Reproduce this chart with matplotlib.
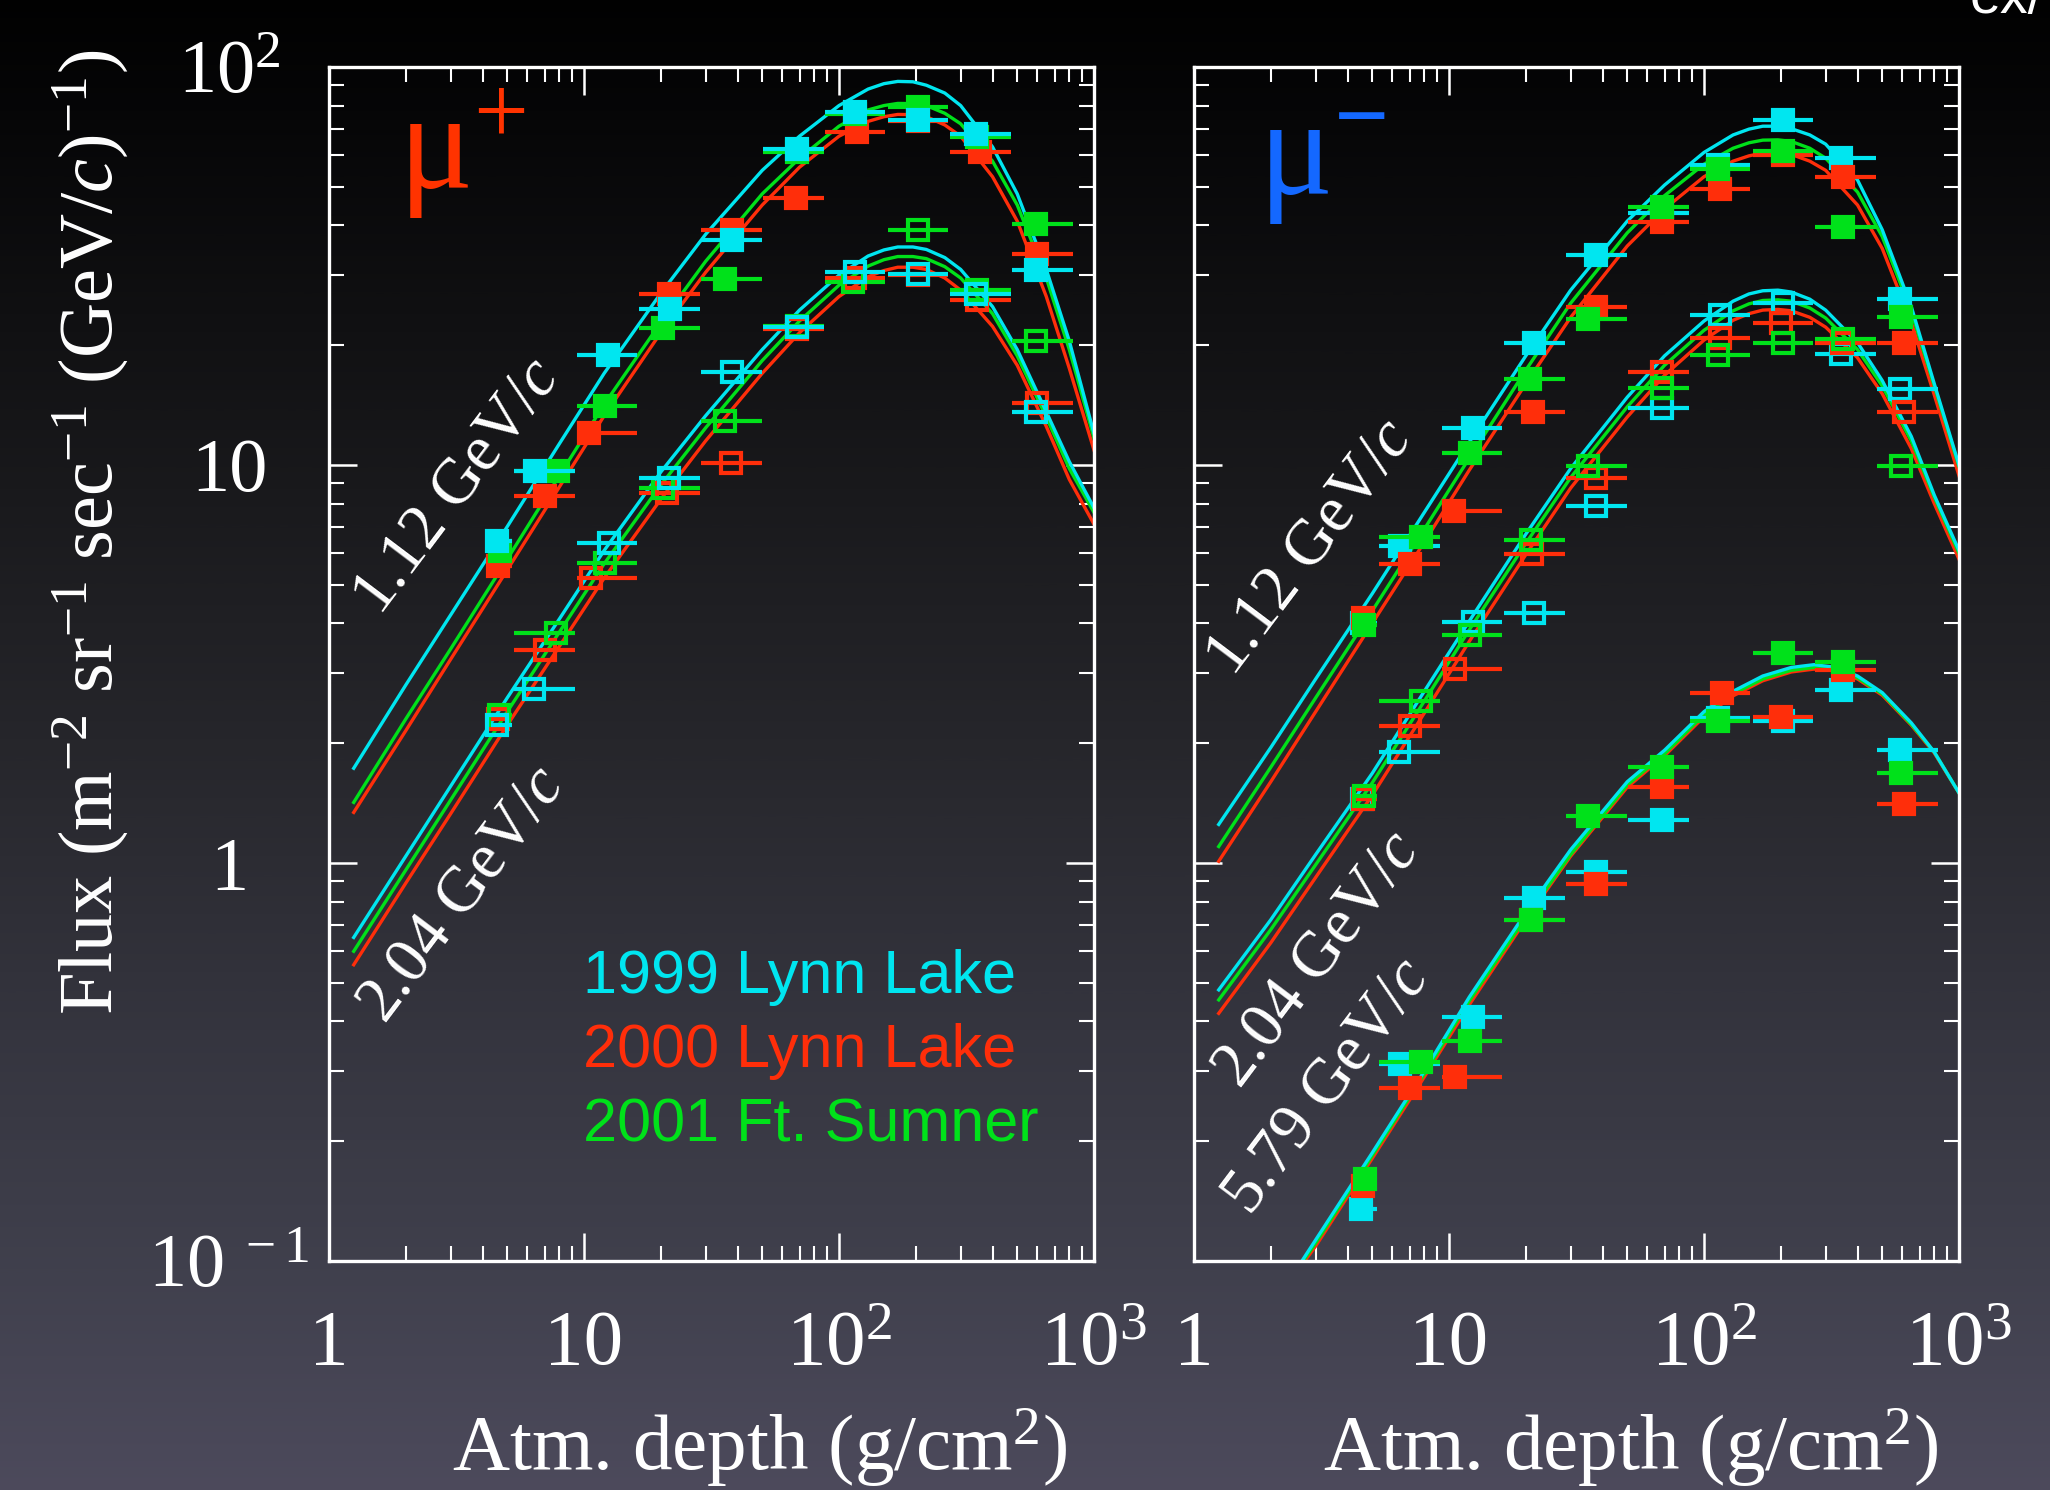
import numpy as np
import matplotlib
matplotlib.use("Agg")
import matplotlib.pyplot as plt
from matplotlib.colors import LinearSegmentedColormap
from matplotlib.ticker import LogLocator, NullFormatter

plt.rcParams['mathtext.fontset'] = 'custom'
plt.rcParams['mathtext.rm'] = 'Liberation Serif'
plt.rcParams['mathtext.it'] = 'Liberation Serif:italic'
plt.rcParams['mathtext.bf'] = 'Liberation Serif:bold'
plt.rcParams['font.family'] = ['Liberation Serif', 'DejaVu Serif']

# ---------------- data ----------------
years = ['1999 Lynn Lake', '2000 Lynn Lake', '2001 Ft. Sumner']
depth_lo = [4.3, 5.3, 9.4, 16.4, 28.8, 50.5, 88.5, 155, 273, 478]
depth_hi = [5.2, 9.2, 16.2, 28.4, 49.8, 87.3, 152, 267, 472, 828]

# mu+ 1.12 GeV/c (filled)
mup112_x_1999 = [4.55, 6.44, 12.4, 21.8, 38.2, 68.5, 116, 204, 346, 591]
mup112_y_1999 = [6.45, 9.66, 18.9, 24.7, 36.7, 62.1, 77.1, 73.5, 67.8, 30.9]
mup112_x_2000 = [4.6, 7.0, 10.5, 21.5, 38.2, 67.6, 118, 204, 357, 599]
mup112_y_2000 = [5.58, 8.36, 12.0, 26.9, 38.9, 47.0, 68.7, 73.0, 61.3, 33.9]
mup112_x_2001 = [4.7, 7.9, 12.1, 20.5, 35.6, 68.5, 116, 204, 349, 593]
mup112_y_2001 = [6.08, 9.66, 14.1, 22.1, 29.3, 61.0, 76.0, 79.4, 66.8, 40.3]
# mu+ 2.04 GeV/c (open)
mup204_x_1999 = [4.55, 6.38, 12.5, 21.5, 38.2, 68.5, 116, 204, 346, 591]
mup204_y_1999 = [2.22, 2.74, 6.35, 9.25, 17.1, 22.2, 30.6, 30.2, 26.9, 13.6]
mup204_x_2000 = [4.6, 7.0, 10.7, 21.2, 37.7, 68.5, 116, 204, 349, 599]
mup204_y_2000 = [2.30, 3.42, 5.20, 8.48, 10.1, 22.0, 29.5, 30.0, 26.0, 14.3]
mup204_x_2001 = [4.66, 7.8, 12.1, 20.5, 35.6, 68.5, 113, 204, 349, 591]
mup204_y_2001 = [2.35, 3.79, 5.66, 8.73, 12.9, 22.3, 28.9, 38.9, 27.5, 20.5]

# mu- 1.12 GeV/c (filled)
mum112_x_1999 = [4.55, 6.44, 12.4, 21.5, 37.7, 68.5, 113, 204, 346, 586]
mum112_y_1999 = [4.0, 6.27, 12.4, 20.2, 33.7, 43.0, 56.6, 73.8, 59.1, 26.1]
mum112_x_2000 = [4.6, 7.0, 10.5, 21.3, 37.7, 68.5, 116, 204, 352, 607]
mum112_y_2000 = [4.13, 5.64, 7.67, 13.6, 25.0, 40.9, 49.5, 60.0, 53.0, 20.2]
mum112_x_2001 = [4.66, 7.8, 12.1, 20.8, 35.2, 68.5, 113, 204, 352, 591]
mum112_y_2001 = [3.96, 6.58, 10.7, 16.4, 23.3, 44.6, 55.4, 61.5, 39.7, 23.5]
# mu- 2.04 GeV/c (open)
mum204_x_1999 = [4.55, 6.38, 12.4, 21.5, 37.7, 68.5, 116, 204, 346, 586]
mum204_y_1999 = [1.45, 1.90, 4.04, 4.25, 7.88, 13.9, 23.8, 25.5, 19.0, 15.5]
mum204_x_2000 = [4.6, 7.0, 10.6, 21.2, 37.7, 68.5, 116, 201, 349, 607]
mum204_y_2000 = [1.45, 2.21, 3.07, 5.96, 9.25, 17.1, 20.9, 22.8, 20.3, 13.6]
mum204_x_2001 = [4.66, 7.8, 12.1, 21.0, 35.2, 68.5, 113, 204, 352, 591]
mum204_y_2001 = [1.47, 2.56, 3.74, 6.49, 9.94, 15.6, 18.9, 20.2, 20.7, 9.94]
# mu- 5.79 GeV/c (filled)
mum579_x_1999 = [4.5, 6.44, 12.4, 21.5, 37.7, 68.5, 113, 204, 346, 586]
mum579_y_1999 = [0.135, 0.312, 0.410, 0.818, 0.95, 1.28, 2.32, 2.28, 2.72, 1.92]
mum579_x_2000 = [4.6, 7.0, 10.6, 21.0, 37.7, 68.5, 118, 201, 352, 607]
mum579_y_2000 = [0.154, 0.272, 0.290, 0.72, 0.886, 1.55, 2.67, 2.33, 3.05, 1.41]
mum579_x_2001 = [4.7, 7.8, 12.1, 21.0, 35.2, 68.5, 113, 204, 352, 591]
mum579_y_2001 = [0.161, 0.316, 0.358, 0.718, 1.31, 1.74, 2.28, 3.37, 3.20, 1.68]

# model curves
fit_x = [1.25, 2, 3, 5, 8, 12, 20, 30, 50, 70, 100, 130, 150, 170, 195, 220, 260, 300, 400, 500, 650, 800, 1000]
mup112_fit_1999 = [1.73, 2.8, 4.2, 7.0, 11.3, 17.0, 27.0, 38.0, 55.0, 67.0, 80.0, 88.0, 90.8, 92.0, 91.8, 90.0, 86.0, 80.0, 63.0, 48.0, 31.0, 20.5, 12.0]
mup112_fit_2000 = [1.34, 2.15, 3.25, 5.45, 8.8, 13.3, 21.5, 30.5, 45.0, 56.0, 67.0, 73.0, 75.0, 76.0, 75.9, 75.0, 71.5, 67.0, 53.0, 41.0, 26.5, 17.5, 10.9]
mup112_fit_2001 = [1.42, 2.3, 3.45, 5.8, 9.4, 14.2, 22.8, 32.5, 48.0, 59.0, 71.0, 78.0, 80.0, 81.0, 80.9, 80.0, 76.5, 72.0, 58.0, 45.0, 29.5, 19.5, 11.7]
mup204_fit_1999 = [0.65, 1.04, 1.56, 2.6, 4.1, 6.1, 9.6, 13.3, 19.5, 24.5, 30.0, 33.5, 34.7, 35.3, 35.3, 34.8, 33.2, 31.0, 25.0, 19.5, 13.6, 10.2, 7.8]
mup204_fit_2000 = [0.555, 0.89, 1.33, 2.22, 3.5, 5.2, 8.2, 11.5, 17.0, 21.5, 26.5, 29.7, 30.8, 31.4, 31.4, 31.0, 29.5, 27.5, 22.3, 17.8, 12.5, 9.2, 7.1]
mup204_fit_2001 = [0.60, 0.96, 1.44, 2.4, 3.8, 5.65, 8.9, 12.4, 18.3, 23.0, 28.3, 31.6, 32.8, 33.4, 33.4, 33.0, 31.5, 29.5, 24.0, 18.8, 13.2, 9.8, 7.6]
mum112_fit_1999 = [1.25, 1.95, 2.9, 4.75, 7.6, 11.4, 18.8, 27.5, 41.0, 50.5, 61.0, 67.5, 69.8, 71.0, 71.0, 70.0, 67.5, 64.0, 52.0, 39.0, 25.0, 16.0, 10.0]
mum112_fit_2000 = [1.01, 1.6, 2.4, 4.0, 6.4, 9.7, 16.0, 23.5, 35.5, 44.0, 53.0, 58.0, 59.8, 60.8, 60.9, 60.3, 58.0, 55.0, 45.0, 35.0, 22.8, 15.0, 9.4]
mum112_fit_2001 = [1.10, 1.74, 2.6, 4.3, 6.9, 10.4, 17.3, 25.5, 38.3, 47.5, 57.0, 62.5, 64.5, 65.5, 65.6, 65.0, 62.5, 59.0, 48.5, 37.5, 24.3, 15.8, 9.9]
mum204_fit_1999 = [0.48, 0.72, 1.05, 1.68, 2.7, 4.05, 6.7, 9.8, 14.8, 18.8, 23.0, 25.8, 26.9, 27.4, 27.5, 27.2, 26.1, 24.5, 20.3, 16.3, 11.8, 8.4, 6.1]
mum204_fit_2000 = [0.419, 0.63, 0.92, 1.48, 2.38, 3.6, 5.95, 8.75, 13.2, 16.8, 20.6, 23.1, 24.0, 24.5, 24.6, 24.4, 23.5, 22.2, 18.6, 15.1, 11.0, 8.0, 5.8]
mum204_fit_2001 = [0.453, 0.68, 0.99, 1.59, 2.55, 3.85, 6.35, 9.3, 14.0, 17.8, 21.8, 24.4, 25.4, 25.9, 26.0, 25.8, 24.8, 23.4, 19.5, 15.8, 11.5, 8.3, 6.0]
fit579_x_1999 = [2.65, 3, 5, 8, 12, 20, 30, 50, 70, 100, 130, 170, 220, 270, 330, 400, 500, 650, 800, 1000]
fit579_x_2000 = [2.72, 3, 5, 8, 12, 20, 30, 50, 70, 100, 130, 170, 220, 270, 330, 400, 500, 650, 800, 1000]
fit579_x_2001 = [2.68, 3, 5, 8, 12, 20, 30, 50, 70, 100, 130, 170, 220, 270, 330, 400, 500, 650, 800, 1000]
mum579_fit_1999 = [0.1, 0.113, 0.187, 0.30, 0.46, 0.75, 1.08, 1.6, 1.92, 2.4, 2.7, 2.95, 3.1, 3.15, 3.1, 2.95, 2.68, 2.25, 1.9, 1.5]
mum579_fit_2000 = [0.1, 0.109, 0.181, 0.29, 0.44, 0.72, 1.04, 1.55, 1.86, 2.33, 2.63, 2.87, 3.02, 3.07, 3.04, 2.9, 2.64, 2.22, 1.89, 1.5]
mum579_fit_2001 = [0.1, 0.111, 0.184, 0.295, 0.45, 0.73, 1.05, 1.57, 1.88, 2.36, 2.66, 2.9, 3.05, 3.1, 3.06, 2.92, 2.66, 2.23, 1.9, 1.5]

xtick_vals = [1, 10, 100, 1000]
xtick_text = ['1', '10', r'$\mathregular{10^{2}}$', r'$\mathregular{10^{3}}$']
ytick_vals = [0.1, 1, 10, 100]
ytick_text = [r'$\mathregular{10^{\ -1}}$', '1', '10', r'$\mathregular{10^{2}}$']

CYAN = '#00E6F0'
RED = '#FF2E0A'
GREEN = '#00E11A'

# ---------------- figure ----------------
W, H = 2050, 1490
fig = plt.figure(figsize=(W / 100, H / 100), dpi=100)

bg = fig.add_axes([0, 0, 1, 1], zorder=-10)
bg_cmap = LinearSegmentedColormap.from_list('bg', [
    (0.0, (0.005, 0.005, 0.006)),
    (0.10, (0.03, 0.03, 0.035)),
    (0.30, (0.09, 0.09, 0.10)),
    (0.50, (0.15, 0.15, 0.17)),
    (0.70, (0.21, 0.21, 0.25)),
    (0.85, (0.25, 0.25, 0.30)),
    (1.0, (0.30, 0.29, 0.36))])
bg.imshow(np.linspace(0, 1, 512).reshape(-1, 1), aspect='auto', cmap=bg_cmap,
          extent=[0, 1, 0, 1], origin='upper')
bg.set_axis_off()


def rect(l, t, r, b):
    return [l / W, 1 - b / H, (r - l) / W, (b - t) / H]


axL = fig.add_axes(rect(329, 67, 1094, 1261))
axR = fig.add_axes(rect(1194, 67, 1959, 1261))

for ax in (axL, axR):
    ax.set_facecolor('none')
    ax.set_xscale('log')
    ax.set_yscale('log')
    ax.set_xlim(1, 1000)
    ax.set_ylim(0.1, 100)
    for s in ax.spines.values():
        s.set_color('white')
        s.set_linewidth(2.4)
    ax.xaxis.set_minor_locator(LogLocator(base=10, subs=np.arange(2, 10), numticks=20))
    ax.yaxis.set_minor_locator(LogLocator(base=10, subs=np.arange(2, 10), numticks=20))
    ax.xaxis.set_minor_formatter(NullFormatter())
    ax.yaxis.set_minor_formatter(NullFormatter())
    ax.tick_params(which='both', direction='in', top=True, right=True,
                   colors='white')
    ax.tick_params(which='major', length=20, width=1.8)
    ax.tick_params(which='minor', length=11, width=1.5)
    ax.set_xticks(xtick_vals)
    ax.set_xticklabels(xtick_text, fontsize=57, color='white')
    ax.tick_params(axis='x', which='major', pad=74)
    for lab in ax.get_xticklabels():
        lab.set_va('baseline')
    ax.set_yticks(ytick_vals)

axL.set_yticklabels(ytick_text, fontsize=55, color='white')
axL.tick_params(axis='y', which='major', pad=72)
for lab in axL.get_yticklabels():
    lab.set_ha('center')
    lab.set_va('center_baseline')
axR.tick_params(axis='y', labelleft=False)


def fit(ax, x, y, c):
    ax.plot(x, y, color=c, lw=2.4, zorder=2, solid_joinstyle='round')


def pts(ax, x, y, c, filled, z):
    x = np.asarray(x, float)
    y = np.asarray(y, float)
    lo = np.asarray(depth_lo, float)
    hi = np.asarray(depth_hi, float)
    ax.errorbar(x, y, xerr=[x - lo, hi - x], fmt='s', ms=15,
                mfc=c if filled else 'none', mec=c, mew=3.0,
                ecolor=c, elinewidth=3.0, capsize=0, zorder=z)


# left panel (mu+)
fit(axL, fit_x, mup112_fit_2000, RED)
fit(axL, fit_x, mup112_fit_2001, GREEN)
fit(axL, fit_x, mup112_fit_1999, CYAN)
fit(axL, fit_x, mup204_fit_2000, RED)
fit(axL, fit_x, mup204_fit_2001, GREEN)
fit(axL, fit_x, mup204_fit_1999, CYAN)
pts(axL, mup204_x_2000, mup204_y_2000, RED, False, 3)
pts(axL, mup204_x_2001, mup204_y_2001, GREEN, False, 4)
pts(axL, mup204_x_1999, mup204_y_1999, CYAN, False, 5)
pts(axL, mup112_x_2000, mup112_y_2000, RED, True, 3)
pts(axL, mup112_x_2001, mup112_y_2001, GREEN, True, 4)
pts(axL, mup112_x_1999, mup112_y_1999, CYAN, True, 5)

# right panel (mu-)
for fx, fy, c in [(fit_x, mum112_fit_2000, RED), (fit_x, mum112_fit_2001, GREEN),
                  (fit_x, mum112_fit_1999, CYAN), (fit_x, mum204_fit_2000, RED),
                  (fit_x, mum204_fit_2001, GREEN), (fit_x, mum204_fit_1999, CYAN),
                  (fit579_x_2000, mum579_fit_2000, RED), (fit579_x_2001, mum579_fit_2001, GREEN),
                  (fit579_x_1999, mum579_fit_1999, CYAN)]:
    fit(axR, fx, fy, c)
pts(axR, mum204_x_1999, mum204_y_1999, CYAN, False, 3)
pts(axR, mum204_x_2000, mum204_y_2000, RED, False, 4)
pts(axR, mum204_x_2001, mum204_y_2001, GREEN, False, 5)
pts(axR, mum112_x_1999, mum112_y_1999, CYAN, True, 3)
pts(axR, mum112_x_2000, mum112_y_2000, RED, True, 4)
pts(axR, mum112_x_2001, mum112_y_2001, GREEN, True, 5)
pts(axR, mum579_x_1999, mum579_y_1999, CYAN, True, 3)
pts(axR, mum579_x_2000, mum579_y_2000, RED, True, 4)
pts(axR, mum579_x_2001, mum579_y_2001, GREEN, True, 5)


def ftext(px, py, s, **kw):
    return fig.text(px / W, 1 - py / H, s, **kw)


# momentum labels
mom_labels = [(458, 487, r'1.12 GeV/$c$'), (463, 895, r'2.04 GeV/$c$'),
              (1311, 548, r'1.12 GeV/$c$'), (1318, 960, r'2.04 GeV/$c$'),
              (1328, 1087, r'5.79 GeV/$c$')]
for px, py, s in mom_labels:
    ftext(px, py, s, color='white', fontsize=47, rotation=53,
          rotation_mode='anchor', ha='center', va='center')

# mu labels (single text each: symbol with superscript charge)
ftext(398, 189, r'μ$^{\mathregular{+}}$', color='#FF3300', fontsize=100,
      ha='left', va='baseline')
ftext(1258, 195, r'μ$^{\mathbf{-}}$', color='#1468FF', fontsize=100,
      ha='left', va='baseline')

# legend texts
for (py, s, c) in [(993, years[0], CYAN), (1067, years[1], RED), (1142, years[2], GREEN)]:
    ftext(583, py, s, color=c, fontsize=44, ha='left', va='baseline',
          family=['Liberation Sans', 'DejaVu Sans'])

# axis titles
ftext(112, 532, r'Flux (m$^{-2}$ sr$^{-1}$ sec$^{-1}$ (GeV/$c$)$^{-1}$)', color='white',
      fontsize=55, rotation=90, rotation_mode='anchor', ha='center', va='baseline')
ftext(760, 1470, r'Atm. depth (g/cm$^{2}$)', color='white', fontsize=57,
      ha='center', va='baseline')
ftext(1631, 1470, r'Atm. depth (g/cm$^{2}$)', color='white', fontsize=57,
      ha='center', va='baseline')

# cut-off slide text at top right (partly outside the frame, as in the source)
ftext(1970, 13, 'ex/', color='white', fontsize=40, ha='left', va='baseline',
      family=['Liberation Sans', 'DejaVu Sans'])

fig.savefig('out.png', dpi=100)
